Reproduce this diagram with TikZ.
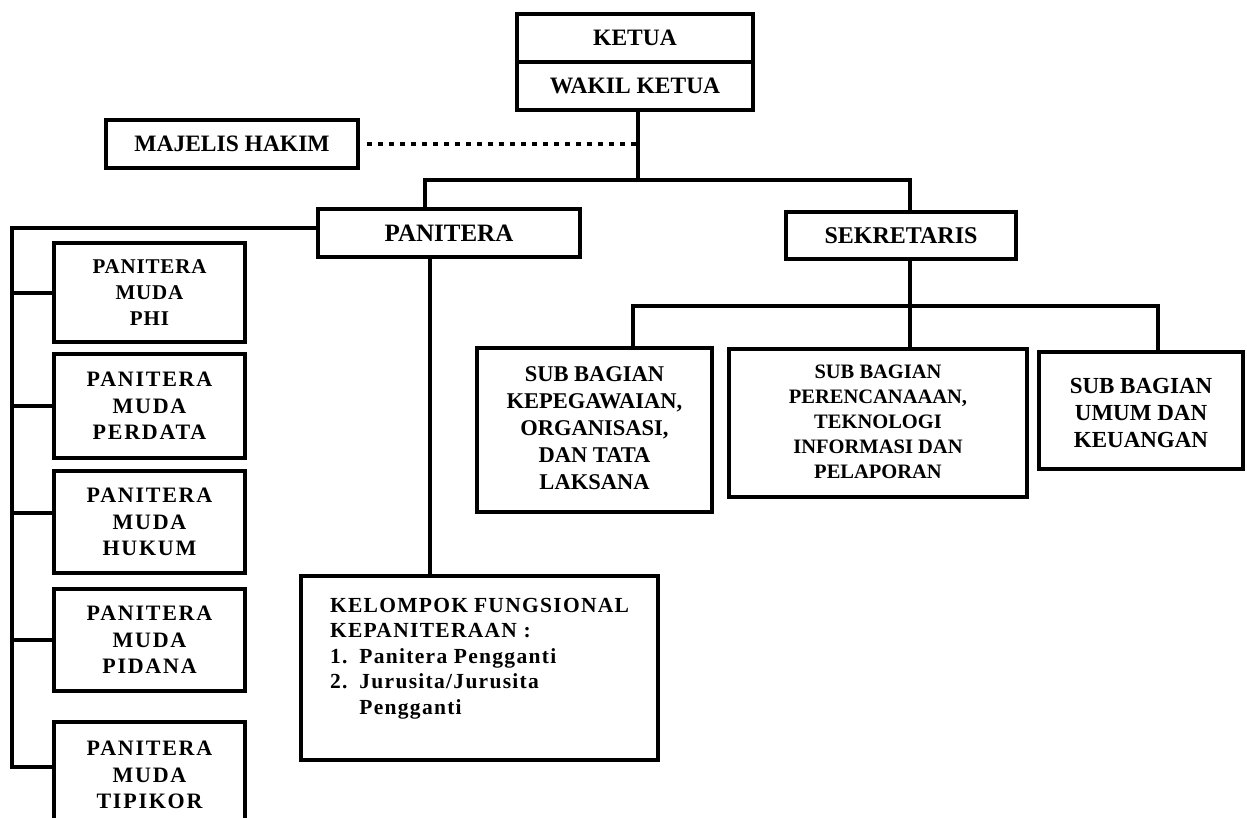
\documentclass[tikz,border=0pt]{standalone}
\usepackage{fontspec}
\setmainfont{Liberation Serif}
\newfontfamily\jarang[LetterSpace=8]{Liberation Serif}
\newfontfamily\agakjarang[LetterSpace=4]{Liberation Serif}
\newfontfamily\sedang[LetterSpace=6]{Liberation Serif}
\usetikzlibrary{calc}

\tikzset{
	kotak/.style={draw, line width=4.5pt, inner sep=2pt, align=center},
	ukuran/.style 2 args={minimum width=#1pt, minimum height=#2pt},
	garis/.style={line width=4pt},
	titik/.style={line width=4.5pt, dash pattern=on 4.5pt off 6.5pt},
	judul/.style={font=\bfseries\fontsize{23.5}{26}\selectfont},
	muda/.style={font=\jarang\bfseries\fontsize{22}{26.5}\selectfont},
}

\begin{document}
\begin{tikzpicture}[x=1pt,y=-1pt]
	\useasboundingbox (0,0) rectangle (1247,817);
	\clip (0,0) rectangle (1247,817);
	% pimpinan
	\node[kotak,judul,ukuran={236}{48}] (ketua) at (635,38) {KETUA};
	\node[kotak,judul,ukuran={236}{48}] (wakil) at (635,86) {WAKIL KETUA};
	\node[kotak,judul,ukuran={252}{48}] (majelis) at (232,144) {MAJELIS HAKIM};
	\node[kotak,font=\bfseries\fontsize{25}{26}\selectfont,ukuran={262}{48}] (panitera) at (449,233) {PANITERA};
	\node[kotak,font=\bfseries\fontsize{24}{26}\selectfont,ukuran={230}{47}] (sekretaris) at (901,235.5) {SEKRETARIS};
	% sub bagian
	\node[kotak,font=\bfseries\fontsize{22.5}{27}\selectfont,ukuran={235}{164}] (sub1) at (594.5,430) {\mbox{}\\[-15pt]SUB BAGIAN\\KEPEGAWAIAN,\\ORGANISASI,\\DAN TATA\\LAKSANA};
	\node[kotak,font=\bfseries\fontsize{20.5}{25}\selectfont,ukuran={298}{148}] (sub2) at (878,423) {SUB BAGIAN\\PERENCANAAAN,\\TEKNOLOGI\\INFORMASI DAN\\PELAPORAN\\[-22pt]\mbox{}};
	\node[kotak,font=\bfseries\fontsize{23}{27}\selectfont,ukuran={204}{117}] (sub3) at (1141,410.5) {\mbox{}\\[-7pt]SUB BAGIAN\\UMUM DAN\\KEUANGAN};
	% kepaniteraan
	\node[kotak,align=left,font=\sedang\bfseries\fontsize{21.5}{25.5}\selectfont,ukuran={357}{184}] (kelompok) at (479.5,668) {KELOMPOK\hspace{6pt}FUNGSIONAL\\KEPANITERAAN :\\1.\hspace{12pt}Panitera Pengganti\\2.\hspace{12pt}Jurusita/Jurusita\\\phantom{2.}\hspace{12pt}Pengganti\\[-2pt]\mbox{}};
	\node[kotak,font=\agakjarang\bfseries\fontsize{21}{26}\selectfont,ukuran={191}{99}] (phi) at (149.5,292.5) {PANITERA\\MUDA\\PHI};
	\node[kotak,muda,ukuran={191}{104}] (perdata) at (149.5,406) {PANITERA\\MUDA\\PERDATA};
	\node[kotak,muda,ukuran={191}{102}] (hukum) at (149.5,522) {PANITERA\\MUDA\\HUKUM};
	\node[kotak,muda,ukuran={191}{102}] (pidana) at (149.5,640) {PANITERA\\MUDA\\PIDANA};
	\node[kotak,muda,ukuran={191}{106}] (tipikor) at (149.5,775) {PANITERA\\MUDA\\TIPIKOR};
	% garis
	\coordinate (cabang) at (638,180);
	\coordinate (cabang2) at (910,306);
	\coordinate (kiri) at (12,228);
	\draw[garis] (wakil.south -| cabang) -- (cabang);
	\draw[garis] (panitera.north -| 425,0) |- (cabang) -| (sekretaris.north -| cabang2);
	\draw[titik] ([xshift=7pt]majelis.east) -- (majelis.east -| cabang);
	\draw[garis] (sekretaris.south -| cabang2) -- (cabang2);
	\draw[garis] (sub1.north -| 633,0) |- (cabang2) -| (sub3.north -| 1158,0);
	\draw[garis] (cabang2) -- (sub2.north -| cabang2);
	\draw[garis] (panitera.south -| 430,0) -- (kelompok.north -| 430,0);
	\draw[garis] (panitera.west |- kiri) -- (kiri) |- ([yshift=8pt]tipikor.west);
	\foreach \m/\g in {phi/0,perdata/0,hukum/9,pidana/0}
		\draw[garis] ([yshift=\g pt]\m.west) -- ++(-42,0);
\end{tikzpicture}
\end{document}
